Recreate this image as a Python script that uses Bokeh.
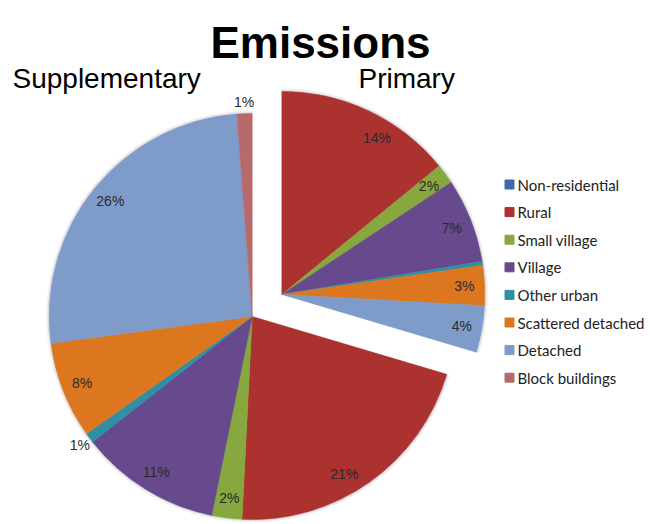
import math

from bokeh.core.properties import value
from bokeh.embed import file_html
from bokeh.models import ColumnDataSource, Range1d
from bokeh.plotting import figure
from bokeh.resources import INLINE

# Emission shares (% of total) per building category, split by heating source
categories = ["Non-residential", "Rural", "Small village", "Village",
              "Other urban", "Scattered detached", "Detached", "Block buildings"]
primary = [0.0, 14.1, 1.6, 6.7, 0.3, 3.2, 3.7, 0.0]
supplementary = [0.0, 21.2, 2.4, 11.2, 0.8, 7.7, 25.9, 1.2]
group_names = ["Primary", "Supplementary"]

colors = ["#3D6BAA", "#AC3230", "#87A83E", "#664A8D",
          "#2E8FA5", "#DC771F", "#7F9BC9", "#B86A6A"]

W, H = 650, 524


def sy(y):
    """Convert a top-down pixel row into the figure's bottom-up y."""
    return H - y


p = figure(width=W, height=H, x_range=Range1d(0, W), y_range=Range1d(0, H),
           output_backend="svg", toolbar_location=None, min_border=0,
           x_axis_location=None, y_axis_location=None)
p.grid.visible = False
p.outline_line_color = None
p.background_fill_color = "white"
p.border_fill_color = "white"

# pie layout
cx, cy = 251.7, sy(316)
R = 203
explode = [37, 0]            # the primary group is pulled out of the pie
label_shift = {("Primary", "Rural"): 6, ("Supplementary", "Rural"): 5}

groups = [primary, supplementary]
total = sum(primary) + sum(supplementary)

wx, wy, ws, we, wc = [], [], [], [], []
gx, gy, gs, ge = [], [], [], []
lx, ly, lt = [], [], []
cum = 0.0
for gname, vals, ex in zip(group_names, groups, explode):
    g_start = cum / total * 360
    g_end = (cum + sum(vals)) / total * 360
    mid_g = math.radians((g_start + g_end) / 2)
    ox = cx + ex * math.sin(mid_g)
    oy = cy + ex * math.cos(mid_g)
    gx.append(ox)
    gy.append(oy)
    gs.append(math.radians(90 - g_end))
    ge.append(math.radians(90 - g_start))
    for cat, v, col in zip(categories, vals, colors):
        t0 = cum / total * 360
        t1 = (cum + v) / total * 360
        cum += v
        if v <= 0:
            continue
        wx.append(ox)
        wy.append(oy)
        ws.append(math.radians(90 - t1))
        we.append(math.radians(90 - t0))
        wc.append(col)
        pct = round(v)
        if pct < 1:
            continue
        tm = (t0 + t1) / 2 + label_shift.get((gname, cat), 0)
        r = R + 12 if v < 1.5 else 0.9 * R
        lx.append(ox + r * math.sin(math.radians(tm)))
        ly.append(oy + r * math.cos(math.radians(tm)))
        lt.append(f"{pct}%")

# soft edge behind each group of slices
for grow, alpha in [(3.0, 0.10), (1.5, 0.18)]:
    p.wedge(x=gx, y=gy, radius=R + grow, start_angle=gs, end_angle=ge,
            fill_color="#808080", fill_alpha=alpha, line_color=None)

p.wedge(x="x", y="y", radius=R, start_angle="s", end_angle="e",
        fill_color="c", line_color="c", line_width=0.5,
        source=ColumnDataSource(dict(x=wx, y=wy, s=ws, e=we, c=wc)))

p.text(x=lx, y=ly, text=lt, text_align="center", text_baseline="middle",
       text_font=value("Liberation Sans"), text_font_size="14px",
       text_color="#2a2a2a")

# titles
p.text(x=[320], y=[sy(42)], text=["Emissions"], text_align="center",
       text_baseline="alphabetic", text_font=value("Liberation Sans"),
       text_font_style="bold", text_font_size="44px", text_color="black")
p.text(x=[12, 358], y=[sy(78), sy(78)], text=group_names[::-1],
       text_align="left", text_baseline="alphabetic",
       text_font=value("Liberation Sans"), text_font_size="28px",
       text_color="black")

# legend
leg_y = [sy(184 + 27.6 * i) for i in range(len(categories))]
p.scatter(x=[509] * len(categories), y=leg_y, marker="square", size=9,
          fill_color=colors, line_color=colors)
p.text(x=[517] * len(categories), y=leg_y, text=categories,
       text_align="left", text_baseline="middle",
       text_font=value("Lato"), text_font_size="15px", text_color="#222222")

open("out.html", "w").write(file_html(p, INLINE))
